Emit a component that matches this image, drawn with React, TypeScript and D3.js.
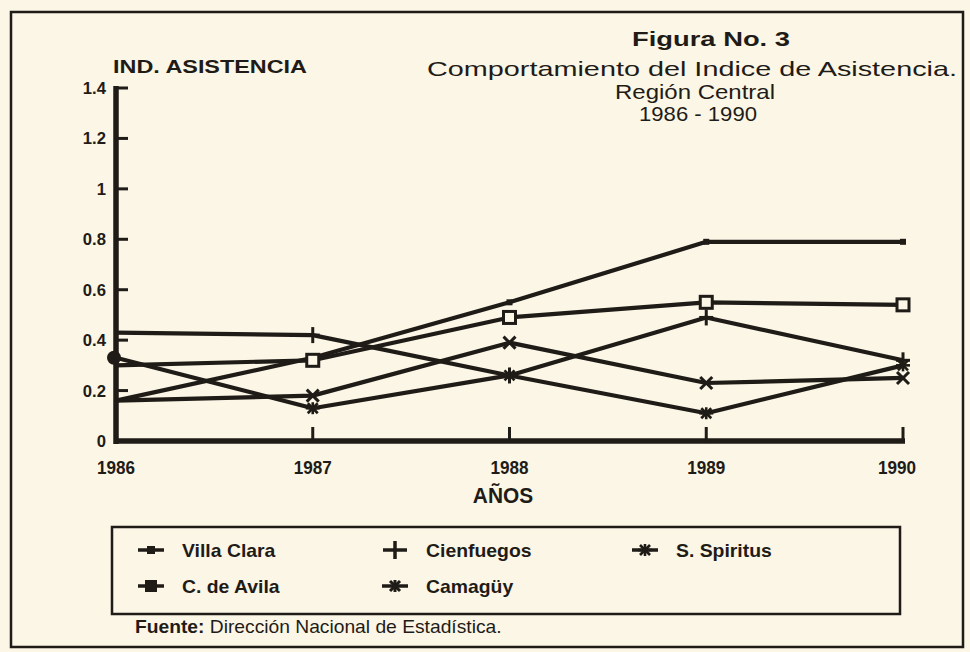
import React from "react";
import * as d3 from "d3";

const INK = "#1f1b17";
const PAPER = "#fbf6e6";
const FONT = "'Liberation Sans', Arial, Helvetica, sans-serif";

const W = 970, H = 652;

// data
const years = [1986, 1987, 1988, 1989, 1990];
const villaClara = [0.16, 0.33, 0.55, 0.79, 0.79];
const cienfuegos = [0.43, 0.42, 0.26, 0.49, 0.32];
const sSpiritus = [0.33, 0.13, 0.26, 0.11, 0.30];
const cDeAvila = [0.30, 0.32, 0.49, 0.55, 0.54];
const camaguey = [0.16, 0.18, 0.39, 0.23, 0.25];

const yTicks = [0, 0.2, 0.4, 0.6, 0.8, 1, 1.2, 1.4];
const yTickLabels = ["0", "0.2", "0.4", "0.6", "0.8", "1", "1.2", "1.4"];

const seriesNames = ["Villa Clara", "Cienfuegos", "S. Spiritus", "C. de Avila", "Camagüy"];
const seriesValues = [villaClara, cienfuegos, sSpiritus, cDeAvila, camaguey];
const seriesMarks = ["dot", "plus", "star", "square", "cross"];

const titleLines = ["Comportamiento del Indice de Asistencia.", "Región Central", "1986 - 1990"];

const x = d3.scaleLinear().domain([1986, 1990]).range([116, 903]);
const y = d3.scaleLinear().domain([0, 1.4]).range([441, 88]);

function Marker({ kind, cx, cy, legend = false, first = false }: { kind: string; cx: number; cy: number; legend?: boolean; first?: boolean }) {
  if (kind === "dot") {
    const s = legend ? 8 : 6;
    return <rect x={cx - s / 2} y={cy - s / 2} width={s} height={s} fill={INK} />;
  }
  if (kind === "square") {
    if (legend) return <rect x={cx - 6} y={cy - 6} width={12} height={12} fill={INK} />;
    return <rect x={cx - 6} y={cy - 6} width={12} height={12} fill={PAPER} stroke={INK} strokeWidth={3} />;
  }
  if (kind === "plus") {
    return (
      <g stroke={INK} strokeWidth={3}>
        <line x1={cx} y1={cy - 8} x2={cx} y2={cy + 8} />
        <line x1={cx - 7} y1={cy} x2={cx + 7} y2={cy} />
      </g>
    );
  }
  if (kind === "cross") {
    const s = legend ? 5 : 6;
    return (
      <g stroke={INK} strokeWidth={3}>
        <line x1={cx - s} y1={cy - s} x2={cx + s} y2={cy + s} />
        <line x1={cx - s} y1={cy + s} x2={cx + s} y2={cy - s} />
        {legend && <line x1={cx} y1={cy - 6} x2={cx} y2={cy + 6} />}
      </g>
    );
  }
  // star; at the axis the scanned mark is a blot
  if (first) return <circle cx={cx - 2} cy={cy} r={7} fill={INK} />;
  return (
    <g stroke={INK} strokeWidth={2.6}>
      <line x1={cx - 5} y1={cy - 5} x2={cx + 5} y2={cy + 5} />
      <line x1={cx - 5} y1={cy + 5} x2={cx + 5} y2={cy - 5} />
      <line x1={cx} y1={cy - 6} x2={cx} y2={cy + 6} />
      <line x1={cx - 7} y1={cy} x2={cx + 7} y2={cy} />
    </g>
  );
}

function T({ x: tx, y: ty, sx = 1, anchor = "start", size, weight = "normal", len, children }: any) {
  return (
    <text transform={`translate(${tx},${ty}) scale(${sx},1)`} textAnchor={anchor} fontSize={size}
      fontWeight={weight} fontFamily={FONT} fill={INK}
      textLength={len} lengthAdjust={len ? "spacingAndGlyphs" : undefined}>
      {children}
    </text>
  );
}

export default function App() {
  const line = d3.line<number>().x((_, i) => x(years[i])).y(d => y(d));

  // legend layout: 3 columns, 2 rows
  const legCols = [151, 395, 645];
  const legRows = [550, 586];

  return (
    <div style={{ position: "fixed", left: 0, top: 0, width: W, height: H, background: PAPER }}>
      <svg width={W} height={H} style={{ display: "block" }}>
        <rect x={0} y={0} width={W} height={H} fill={PAPER} />
        <rect x={11} y={12} width={952} height={635} fill="none" stroke={INK} strokeWidth={2.5} />

        {/* titles */}
        <T x={711} y={46} anchor="middle" size={21} weight="bold" len={158}>Figura No. 3</T>
        <T x={692} y={76} anchor="middle" size={21} len={530}>{titleLines[0]}</T>
        <T x={695} y={99} anchor="middle" size={21} len={160}>{titleLines[1]}</T>
        <T x={698} y={121} anchor="middle" size={21} len={118}>{titleLines[2]}</T>

        <T x={113} y={73} size={18} weight="bold" len={194}>IND. ASISTENCIA</T>

        {/* y axis */}
        <line x1={116} y1={y(1.4) - 2} x2={116} y2={y(0) + 3} stroke={INK} strokeWidth={5.5} />
        {yTicks.map((t, i) => (
          <g key={t}>
            <line x1={116} y1={y(t)} x2={128} y2={y(t)} stroke={INK} strokeWidth={3} />
            <T x={106} y={y(t) + 6} anchor="end" size={17} weight="bold" sx={0.98}>{yTickLabels[i]}</T>
          </g>
        ))}

        {/* x axis */}
        <line x1={114} y1={y(0)} x2={x(1990) + 2} y2={y(0)} stroke={INK} strokeWidth={5.5} />
        {years.map(yr => (
          <g key={yr}>
            <line x1={x(yr)} y1={y(0) - 14} x2={x(yr)} y2={y(0)} stroke={INK} strokeWidth={3} />
            <T x={x(yr) - (yr === 1990 ? 6 : 0)} y={474} anchor="middle" size={19} weight="bold" sx={0.9}>{yr}</T>
          </g>
        ))}
        <T x={503} y={503} anchor="middle" size={22} weight="bold" sx={0.95}>AÑOS</T>

        {/* series */}
        {seriesValues.map((vals, si) => (
          <path key={si} d={line(vals) || ""} fill="none" stroke={INK} strokeWidth={4.2} strokeLinejoin="round" />
        ))}
        {seriesValues.map((vals, si) =>
          vals.map((v, i) =>
            i === 0 && seriesMarks[si] !== "star" ? null :
              <Marker key={`${si}-${i}`} kind={seriesMarks[si]} cx={x(years[i])} cy={y(v)} first={i === 0} />
          )
        )}

        {/* legend */}
        <rect x={112} y={527} width={788} height={87} fill="none" stroke={INK} strokeWidth={2.5} />
        {seriesNames.map((name, si) => {
          const cx = legCols[si % 3];
          const cy = legRows[Math.floor(si / 3)];
          const mark = seriesMarks[si];
          return (
            <g key={name}>
              {mark !== "plus" && <line x1={cx - 13} y1={cy} x2={cx + 13} y2={cy} stroke={INK} strokeWidth={3.5} />}
              {mark === "plus" ? (
                <g stroke={INK} strokeWidth={3.5}>
                  <line x1={cx - 12} y1={cy} x2={cx + 12} y2={cy} />
                  <line x1={cx} y1={cy - 9} x2={cx} y2={cy + 9} />
                </g>
              ) : (
                <Marker kind={mark} cx={cx} cy={cy} legend />
              )}
              <T x={cx + 31} y={cy + 7} size={19} weight="bold" sx={1.02}>{name}</T>
            </g>
          );
        })}

        <text transform="translate(135,633) scale(1.1,1)" fontSize={17.5} fontFamily={FONT} fill={INK}>
          <tspan fontWeight="bold">Fuente:</tspan>
          <tspan> Dirección Nacional de Estadística.</tspan>
        </text>
      </svg>
    </div>
  );
}
